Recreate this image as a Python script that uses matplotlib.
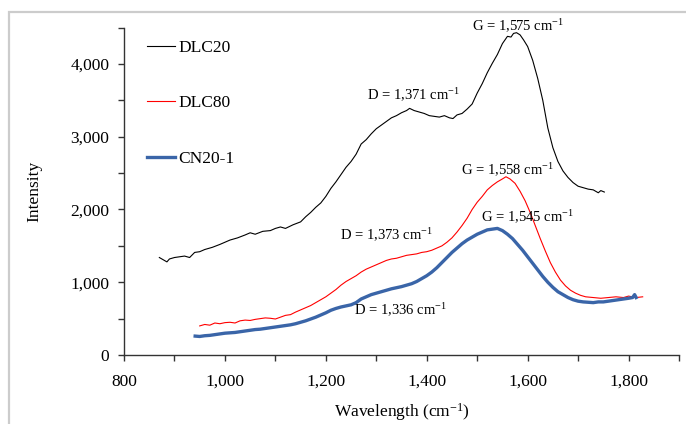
import matplotlib
matplotlib.use('Agg')
import matplotlib.pyplot as plt
from matplotlib.patches import Rectangle

plt.rcParams['font.family'] = ['Liberation Serif', 'DejaVu Serif']
plt.rcParams['mathtext.default'] = 'regular'

# DLC20 (black)
x_dlc20 = [870, 875, 880, 885, 890, 900, 910, 920, 930, 940, 950, 960, 975, 990, 1000, 1010, 1025,
           1040, 1050, 1060, 1075, 1090, 1100, 1110, 1120, 1135, 1150, 1160, 1170, 1180, 1190, 1200,
           1210, 1220, 1230, 1240, 1250, 1260, 1270, 1280, 1290, 1300, 1310, 1320, 1330, 1340, 1350,
           1360, 1366, 1375, 1385, 1395, 1405, 1415, 1425, 1435, 1445, 1452, 1460, 1470, 1480, 1490,
           1500, 1510, 1520, 1530, 1540, 1550, 1560, 1567, 1572, 1578, 1585, 1592, 1600, 1610, 1620,
           1630, 1640, 1650, 1660, 1670, 1680, 1690, 1700, 1710, 1720, 1730, 1740, 1745, 1752]
y_dlc20 = [1340, 1320, 1300, 1280, 1320, 1340, 1350, 1360, 1340, 1410, 1420, 1450, 1480, 1520, 1550,
           1580, 1610, 1650, 1680, 1660, 1700, 1710, 1740, 1760, 1740, 1790, 1830, 1900, 1960, 2030,
           2090, 2180, 2290, 2380, 2480, 2580, 2660, 2760, 2900, 2960, 3040, 3110, 3160, 3210, 3260,
           3290, 3330, 3360, 3390, 3360, 3340, 3320, 3290, 3280, 3270, 3290, 3260, 3250, 3300, 3320,
           3380, 3450, 3600, 3730, 3880, 4010, 4130, 4280, 4380, 4370, 4420, 4430, 4400, 4330, 4240,
           4050, 3800, 3500, 3120, 2850, 2660, 2530, 2440, 2370, 2320, 2300, 2280, 2270, 2230, 2260,
           2240]

# DLC80 (red)
x_dlc80 = [950, 960, 970, 980, 990, 1000, 1010, 1020, 1030, 1040, 1050, 1060, 1070, 1080, 1090, 1100,
           1110, 1120, 1130, 1140, 1150, 1160, 1170, 1180, 1190, 1200, 1210, 1220, 1230, 1240, 1250,
           1260, 1270, 1280, 1290, 1300, 1310, 1320, 1330, 1340, 1350, 1360, 1370, 1380, 1390, 1400,
           1410, 1420, 1430, 1440, 1450, 1460, 1470, 1480, 1490, 1500, 1510, 1520, 1530, 1540, 1550,
           1557, 1565, 1575, 1585, 1595, 1605, 1615, 1625, 1635, 1645, 1655, 1665, 1675, 1685, 1695,
           1705, 1715, 1730, 1745, 1760, 1775, 1790, 1800, 1815, 1828]
y_dlc80 = [400, 420, 410, 440, 430, 445, 450, 440, 470, 480, 475, 490, 500, 510, 505, 495, 520, 545,
           555, 590, 620, 650, 680, 720, 760, 800, 850, 900, 960, 1010, 1050, 1090, 1140, 1180, 1210,
           1240, 1270, 1300, 1320, 1330, 1350, 1370, 1380, 1390, 1410, 1420, 1440, 1470, 1500, 1550,
           1610, 1690, 1780, 1880, 2000, 2100, 2180, 2270, 2330, 2380, 2420, 2450, 2420, 2360, 2250,
           2120, 1960, 1780, 1600, 1430, 1270, 1140, 1030, 950, 890, 850, 820, 800, 790, 780, 790, 800,
           790, 810, 790, 800]

# CN20-1 (blue)
x_cn20 = [941, 950, 960, 970, 980, 990, 1000, 1010, 1020, 1030, 1040, 1050, 1060, 1070, 1080, 1090,
          1100, 1110, 1120, 1130, 1140, 1150, 1160, 1170, 1180, 1190, 1200, 1210, 1220, 1230, 1240,
          1250, 1260, 1270, 1280, 1290, 1300, 1310, 1320, 1330, 1340, 1350, 1360, 1370, 1380, 1390,
          1400, 1410, 1420, 1430, 1440, 1450, 1460, 1470, 1480, 1490, 1500, 1510, 1520, 1530, 1540,
          1550, 1560, 1570, 1580, 1590, 1600, 1610, 1620, 1630, 1640, 1650, 1660, 1670, 1680, 1690,
          1700, 1710, 1720, 1730, 1740, 1750, 1760, 1770, 1780, 1790, 1800, 1808, 1812, 1815]
y_cn20 = [260, 255, 265, 270, 280, 290, 300, 305, 310, 320, 330, 340, 350, 355, 365, 375, 385, 395,
          405, 415, 430, 450, 470, 495, 520, 550, 580, 615, 640, 660, 675, 690, 720, 770, 800, 830,
          850, 870, 890, 910, 925, 940, 960, 980, 1010, 1050, 1090, 1140, 1200, 1270, 1340, 1410,
          1470, 1530, 1580, 1620, 1660, 1690, 1720, 1730, 1740, 1710, 1660, 1600, 1520, 1440, 1350,
          1260, 1170, 1080, 1000, 930, 870, 830, 790, 760, 740, 730, 725, 720, 730, 730, 740, 750,
          760, 770, 780, 790, 830, 790]

# peak labels: text, x, y
peak_labels = ['G = 1,575 cm$^{-1}$', 'D = 1,371 cm$^{-1}$', 'G = 1,558 cm$^{-1}$',
               'D = 1,373 cm$^{-1}$', 'G = 1,545 cm$^{-1}$', 'D = 1,336 cm$^{-1}$']
peak_x = [1580, 1374, 1560, 1321, 1600, 1347]
peak_y = [4522, 3574, 2543, 1649, 1897, 619]

x_ticks = [800, 1000, 1200, 1400, 1600, 1800]
y_ticks = [0, 1000, 2000, 3000, 4000]

fig = plt.figure(figsize=(6.86, 4.24), dpi=100)
ax = fig.add_axes([0.1808, 0.1627, 0.809, 0.7722])

# light grey chart-area border (partly cropped in the original)
fig.patches.append(Rectangle((9 / 686, -0.1), 1.2, 1 - 12 / 424 + 0.1, transform=fig.transFigure,
                             fill=False, edgecolor='#cccccc', linewidth=1.6))

ax.plot(x_dlc20, y_dlc20, color='black', linewidth=0.8, label='DLC20')
ax.plot(x_dlc80, y_dlc80, color='#ff0000', linewidth=0.8, label='DLC80')
ax.plot(x_cn20, y_cn20, color='#3a65a8', linewidth=2.4, label='CN20-1')

for t, px, py in zip(peak_labels, peak_x, peak_y):
    ax.text(px, py, t, ha='center', va='center', fontsize=10.5, clip_on=False)

ax.set_xlim(800, 1900)
ax.set_ylim(0, 4500)
ax.set_xticks(x_ticks)
ax.set_xticks(range(800, 1901, 100), minor=True)
ax.set_yticks(y_ticks)
ax.set_yticks(range(0, 4501, 500), minor=True)
ax.set_xticklabels([f'{v:,}' for v in x_ticks], fontsize=12.5)
ax.set_yticklabels([f'{v:,}' for v in y_ticks], fontsize=12.5)
ax.tick_params(which='both', direction='out', length=4.5, width=1, color='#333333')
ax.tick_params(axis='y', which='major', pad=6)
ax.tick_params(axis='x', which='major', pad=9)

for s in ['top', 'right']:
    ax.spines[s].set_visible(False)
for s in ['left', 'bottom']:
    ax.spines[s].set_color('#333333')
    ax.spines[s].set_linewidth(1)

ax.set_xlabel('Wavelength (cm$^{-1}$)', fontsize=12.5, labelpad=8)
ax.set_ylabel('Intensity', fontsize=12.5, labelpad=20)

ax.legend(loc='upper left', bbox_to_anchor=(147 / 686, 1 - 40 / 424), bbox_transform=fig.transFigure,
          frameon=False, fontsize=12.5, handlelength=1.6, handletextpad=0.2, labelspacing=2.25,
          borderpad=0, borderaxespad=0)

fig.savefig('out.png', dpi=100)
